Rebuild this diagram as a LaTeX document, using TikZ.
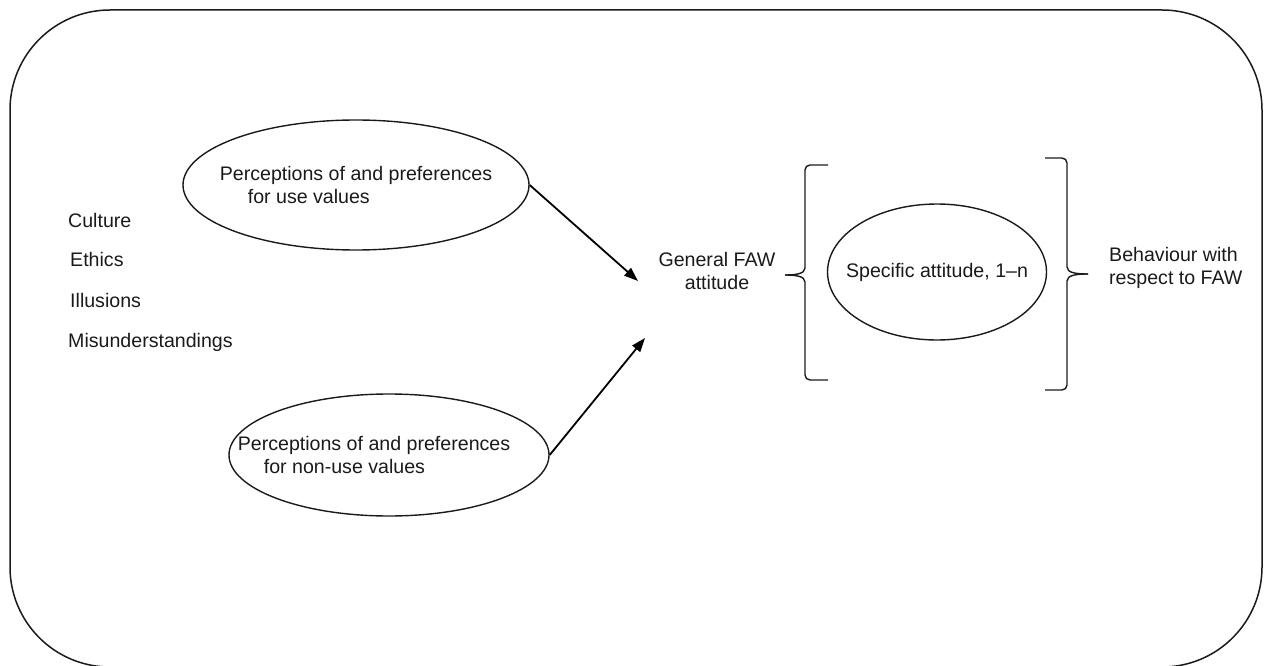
\documentclass[tikz,border=0pt]{standalone}
\usepackage{fontspec}
\setmainfont{Liberation Sans}
\usetikzlibrary{shapes.geometric,arrows.meta}
\definecolor{ink}{HTML}{1A1A1A}
\begin{document}
\begin{tikzpicture}[x=1pt,y=-1pt,
  every node/.style={font=\fontsize{19.6}{23.5}\selectfont, text=ink, inner sep=0pt},
  oval/.style={draw=ink, line width=1.4pt, ellipse, inner sep=0pt},
  plain/.style={anchor=west},
  link/.style={draw=black, line width=1.8pt, -{Triangle[length=14pt,width=10pt]}},
  brace/.style={draw=ink, line width=1.4pt}
]
\useasboundingbox (0,0) rectangle (1264,666);
\begin{scope}
\clip (0,0) rectangle (1264,666);
\draw[ink, line width=1.5pt, rounded corners=100pt] (10,10) rectangle (1262,667);
\end{scope}

% factors
\node[plain] (cult) at (68,220) {Culture};
\node[plain] (eth) at (70,259) {Ethics};
\node[plain] (ill) at (70,300) {Illusions};
\node[plain] (mis) at (68,342) {Misunderstandings};

% ellipses
\node[oval, minimum width=346pt, minimum height=130pt,
  label={[align=left]center:Perceptions of and preferences\\\hspace*{28pt}for use values}]
  (use) at (356,185) {};
\node[oval, minimum width=320pt, minimum height=122pt,
  label={[align=left, xshift=-15pt]center:Perceptions of and preferences\\\hspace*{26pt}for non-use values}]
  (nonuse) at (389,455) {};

\coordinate (tipA) at (638,281);
\coordinate (tipB) at (645,338);
\draw[link] (use.east) -- (tipA);
\draw[link] (nonuse.east) -- (tipB);

\node[align=center] (gen) at (717,271) {General FAW\\attitude};

% specific attitude
\node[oval, minimum width=219pt, minimum height=136pt,
  label={center:Specific attitude, 1--n}] (spec) at (937,272) {};

% braces
\coordinate (lbt) at (828,165);
\coordinate (lbb) at (828,380);
\coordinate (lbn) at (785,275);
\draw[brace, rounded corners=5pt] (lbt) -- (805,165) -- (805,268);
\draw[brace] (805,268) .. controls (805,274) and (795,275) .. (lbn);
\draw[brace] (lbn) .. controls (795,275) and (805,276) .. (805,282);
\draw[brace, rounded corners=5pt] (805,282) -- (805,380) -- (lbb);

\coordinate (rbt) at (1045,158);
\coordinate (rbb) at (1045,390);
\coordinate (rbn) at (1088,274);
\draw[brace, rounded corners=5pt] (rbt) -- (1067,158) -- (1067,267);
\draw[brace] (1067,267) .. controls (1067,273) and (1077,274) .. (rbn);
\draw[brace] (rbn) .. controls (1077,274) and (1067,275) .. (1067,281);
\draw[brace, rounded corners=5pt] (1067,281) -- (1067,390) -- (rbb);

\node[align=left, anchor=west] (beh) at (1109,268) {Behaviour with\\respect to FAW};
\end{tikzpicture}
\end{document}
